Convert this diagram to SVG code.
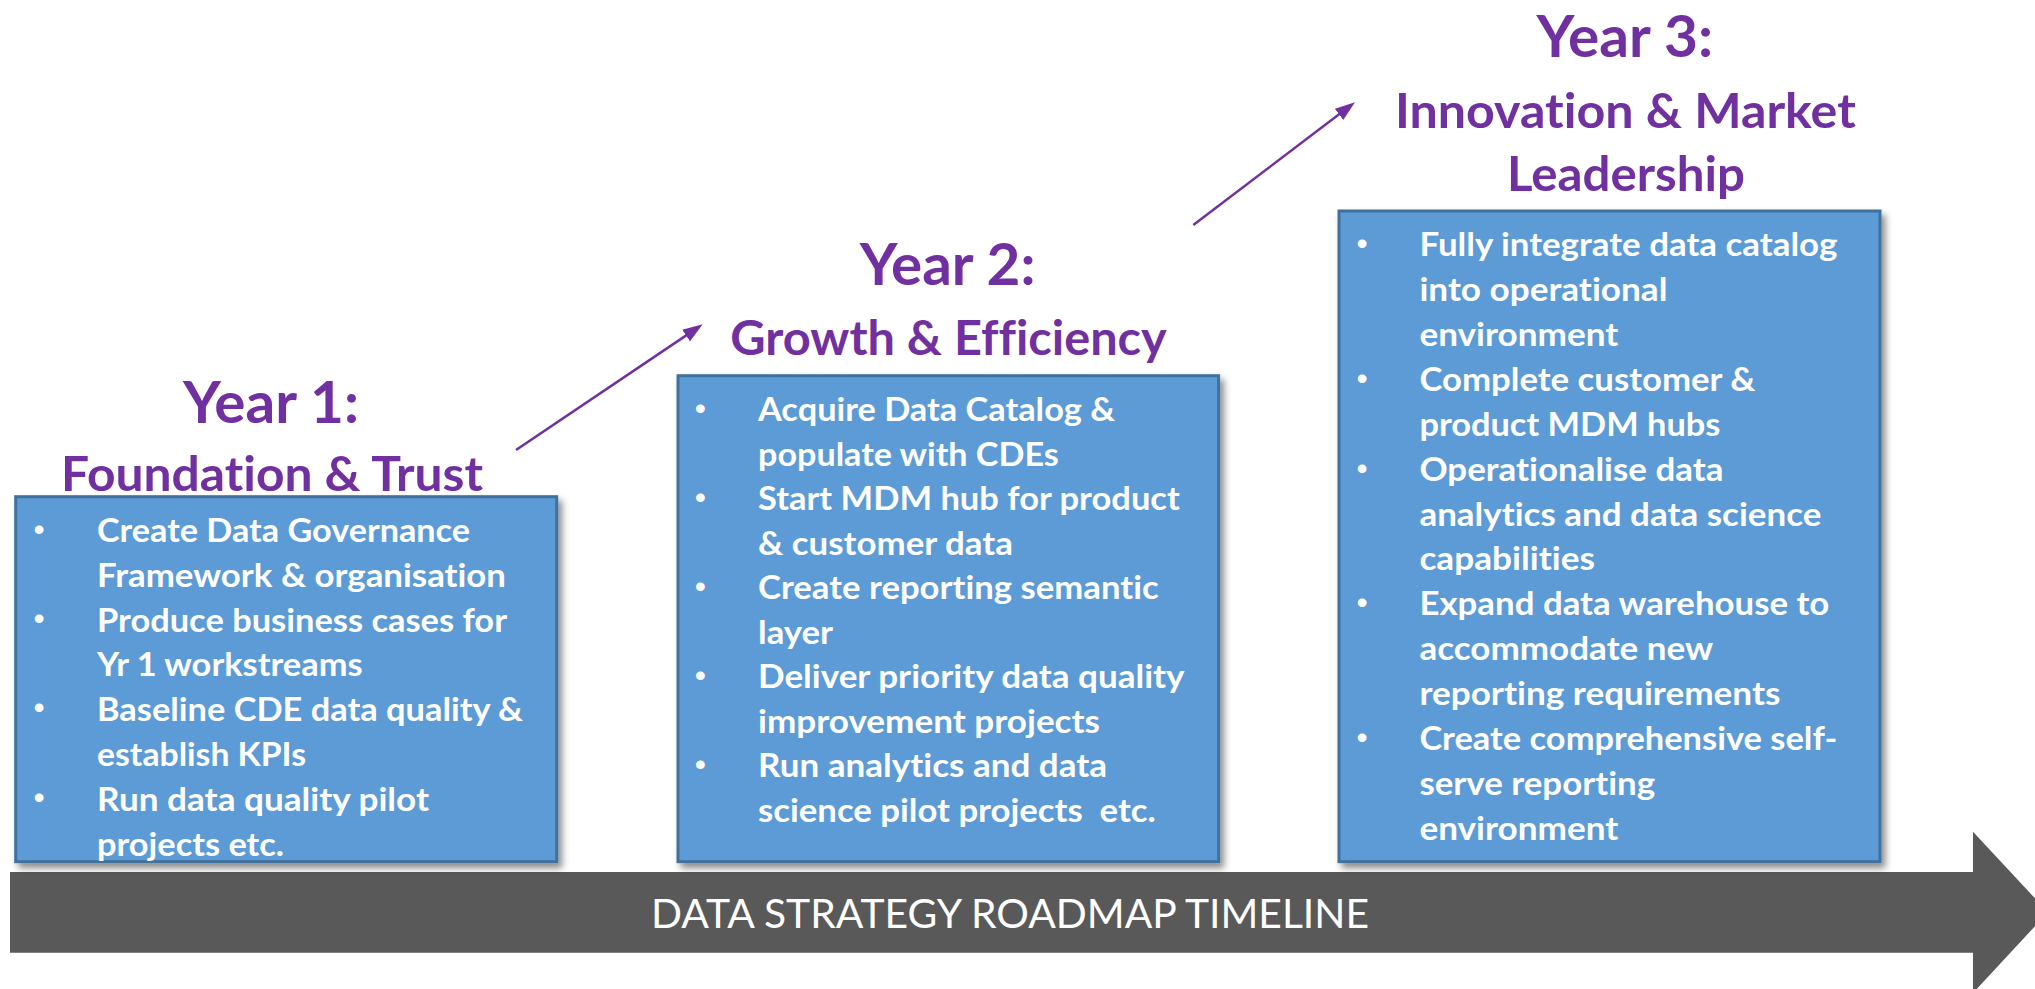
<svg xmlns="http://www.w3.org/2000/svg" width="2035" height="989" viewBox="0 0 2035 989">
<defs>
<style>
text{font-variant-ligatures:none;font-feature-settings:"liga" 0,"dlig" 0}
.box{fill:#5B9BD5;stroke:#41719C;stroke-width:3;filter:url(#sh)}
.hd{font-family:Lato,"Open Sans",sans-serif;font-weight:bold;fill:#7030A0}
.yr{font-size:57px}
.sub{font-size:47px}
.t{font-family:Lato,"Open Sans",sans-serif;font-weight:bold;font-size:32px;fill:#FFFFFF}
.b{font-family:"Liberation Sans",Arial,sans-serif;font-size:32px;fill:#FFFFFF}
.con{stroke:#7030A0;stroke-width:2.5;fill:none;marker-end:url(#ah)}
.tl{font-family:Lato,"Open Sans",sans-serif;font-size:41px;fill:#FFFFFF}
</style>
<filter id="sh" x="-5%" y="-5%" width="115%" height="115%">
<feDropShadow dx="4" dy="5" stdDeviation="3.5" flood-color="#000000" flood-opacity="0.45"/>
</filter>
<marker id="ah" viewBox="0 0 20 14" refX="10" refY="7" markerWidth="20" markerHeight="14" markerUnits="userSpaceOnUse" orient="auto">
<path d="M0,0 L20,7 L0,14 z" fill="#7030A0"/>
</marker>
</defs>
<rect x="0" y="0" width="2035" height="989" fill="#FFFFFF"/>

<g id="timeline">
<polygon points="10,872 1973,872 1973,831.7 2048,912.3 1973,993 1973,952.7 10,952.7" fill="#595959"/>
<text class="tl" x="651" y="928.3" textLength="718" lengthAdjust="spacingAndGlyphs">DATA STRATEGY ROADMAP TIMELINE</text>
</g>

<g id="connectors">
<path class="con" d="M516,450 L694.4,329.9"/>
<path class="con" d="M1193.3,225 L1347,108.3"/>
</g>

<g id="year1">
<text class="hd yr" x="183" y="422.7" textLength="176" lengthAdjust="spacingAndGlyphs">Year 1:</text>
<text class="hd sub" x="61" y="490.7" textLength="422" lengthAdjust="spacingAndGlyphs">Foundation &amp; Trust</text>
<rect class="box" x="15.7" y="496.7" width="541" height="365"/>
<text class="b" x="33.5" y="539.5">•</text>
<text class="b" x="33.5" y="628.5">•</text>
<text class="b" x="33.5" y="718">•</text>
<text class="b" x="33.5" y="807.5">•</text>
<text class="t" x="97" y="542" textLength="373" lengthAdjust="spacingAndGlyphs">Create Data Governance</text>
<text class="t" x="97" y="586.8" textLength="409" lengthAdjust="spacingAndGlyphs">Framework &amp; organisation</text>
<text class="t" x="97" y="631.6" textLength="410" lengthAdjust="spacingAndGlyphs">Produce business cases for</text>
<text class="t" x="97" y="676.4" textLength="265.6" lengthAdjust="spacingAndGlyphs">Yr 1 workstreams</text>
<text class="t" x="97" y="721.2" textLength="426" lengthAdjust="spacingAndGlyphs">Baseline CDE data quality &amp;</text>
<text class="t" x="97" y="766" textLength="209" lengthAdjust="spacingAndGlyphs">establish KPIs</text>
<text class="t" x="97" y="810.8" textLength="332" lengthAdjust="spacingAndGlyphs">Run data quality pilot</text>
<text class="t" x="97" y="855.6" textLength="187" lengthAdjust="spacingAndGlyphs">projects etc.</text>
</g>

<g id="year2">
<text class="hd yr" x="859.8" y="285.2" textLength="175.7" lengthAdjust="spacingAndGlyphs">Year 2:</text>
<text class="hd sub" x="730.3" y="354.7" textLength="436.5" lengthAdjust="spacingAndGlyphs">Growth &amp; Efficiency</text>
<rect class="box" x="678" y="375.7" width="540.6" height="486"/>
<text class="b" x="694.7" y="418.5">•</text>
<text class="b" x="694.7" y="507.5">•</text>
<text class="b" x="694.7" y="596.5">•</text>
<text class="b" x="694.7" y="685.5">•</text>
<text class="b" x="694.7" y="774.5">•</text>
<text class="t" x="758" y="421" textLength="357" lengthAdjust="spacingAndGlyphs">Acquire Data Catalog &amp;</text>
<text class="t" x="758" y="465.5" textLength="300.8" lengthAdjust="spacingAndGlyphs">populate with CDEs</text>
<text class="t" x="758" y="510" textLength="421.8" lengthAdjust="spacingAndGlyphs">Start MDM hub for product</text>
<text class="t" x="758" y="554.5" textLength="255" lengthAdjust="spacingAndGlyphs">&amp; customer data</text>
<text class="t" x="758" y="599" textLength="400.7" lengthAdjust="spacingAndGlyphs">Create reporting semantic</text>
<text class="t" x="758" y="643.5" textLength="75" lengthAdjust="spacingAndGlyphs">layer</text>
<text class="t" x="758" y="688" textLength="426.6" lengthAdjust="spacingAndGlyphs">Deliver priority data quality</text>
<text class="t" x="758" y="732.5" textLength="342" lengthAdjust="spacingAndGlyphs">improvement projects</text>
<text class="t" x="758" y="777" textLength="349" lengthAdjust="spacingAndGlyphs">Run analytics and data</text>
<text class="t" x="758" y="821.5" textLength="397.7" lengthAdjust="spacingAndGlyphs" xml:space="preserve">science pilot projects  etc.</text>
</g>

<g id="year3">
<text class="hd yr" x="1536.6" y="57.2" textLength="176.4" lengthAdjust="spacingAndGlyphs">Year 3:</text>
<text class="hd sub" x="1395" y="128" textLength="460.8" lengthAdjust="spacingAndGlyphs">Innovation &amp; Market</text>
<text class="hd sub" x="1507" y="190.8" textLength="238" lengthAdjust="spacingAndGlyphs">Leadership</text>
<rect class="box" x="1339" y="211" width="541" height="650.7"/>
<text class="b" x="1356.6" y="254">•</text>
<text class="b" x="1356.6" y="388.8">•</text>
<text class="b" x="1356.6" y="478.6">•</text>
<text class="b" x="1356.6" y="613.4">•</text>
<text class="b" x="1356.6" y="748.1">•</text>
<text class="t" x="1419.4" y="256" textLength="418" lengthAdjust="spacingAndGlyphs">Fully integrate data catalog</text>
<text class="t" x="1419.4" y="300.9" textLength="248" lengthAdjust="spacingAndGlyphs">into operational</text>
<text class="t" x="1419.4" y="345.8" textLength="199" lengthAdjust="spacingAndGlyphs">environment</text>
<text class="t" x="1419.4" y="390.8" textLength="336" lengthAdjust="spacingAndGlyphs">Complete customer &amp;</text>
<text class="t" x="1419.4" y="435.7" textLength="301" lengthAdjust="spacingAndGlyphs">product MDM hubs</text>
<text class="t" x="1419.4" y="480.6" textLength="304" lengthAdjust="spacingAndGlyphs">Operationalise data</text>
<text class="t" x="1419.4" y="525.5" textLength="402" lengthAdjust="spacingAndGlyphs">analytics and data science</text>
<text class="t" x="1419.4" y="570.4" textLength="175.6" lengthAdjust="spacingAndGlyphs">capabilities</text>
<text class="t" x="1419.4" y="615.4" textLength="410" lengthAdjust="spacingAndGlyphs">Expand data warehouse to</text>
<text class="t" x="1419.4" y="660.3" textLength="293.7" lengthAdjust="spacingAndGlyphs">accommodate new</text>
<text class="t" x="1419.4" y="705.2" textLength="361" lengthAdjust="spacingAndGlyphs">reporting requirements</text>
<text class="t" x="1419.4" y="750.1" textLength="418" lengthAdjust="spacingAndGlyphs">Create comprehensive self-</text>
<text class="t" x="1419.4" y="795" textLength="235.7" lengthAdjust="spacingAndGlyphs">serve reporting</text>
<text class="t" x="1419.4" y="840" textLength="199" lengthAdjust="spacingAndGlyphs">environment</text>
</g>
</svg>
